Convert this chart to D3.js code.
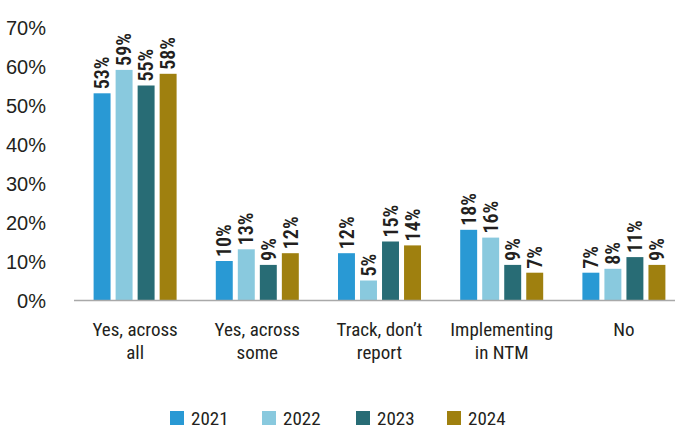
<!DOCTYPE html>
<html>
<head>
<meta charset="utf-8">
<script src="https://cdn.jsdelivr.net/npm/d3@7"></script>
<style>
  html, body { margin: 0; padding: 0; background: #fff; }
  svg { display: block; font-family: "Roboto Condensed", "Liberation Sans Narrow", Roboto, sans-serif; }
</style>
</head>
<body>
<svg id="chart" width="675" height="430"></svg>
<script>
// Survey answers and share of respondents per year (%)
const categories = ["Yes, across all", "Yes, across some", "Track, don’t report", "Implementing in NTM", "No"];
const categoryLines = [["Yes, across", "all"], ["Yes, across", "some"], ["Track, don’t", "report"], ["Implementing", "in NTM"], ["No"]];
const years = ["2021", "2022", "2023", "2024"];
const values2021 = [53, 10, 12, 18, 7];
const values2022 = [59, 13, 5, 16, 8];
const values2023 = [55, 9, 15, 9, 11];
const values2024 = [58, 12, 14, 7, 9];
const yTicks = [0, 10, 20, 30, 40, 50, 60, 70];
const colors = ["#2999d4", "#89c9de", "#286c75", "#9f800f"];

const series = [values2021, values2022, values2023, values2024];

const svg = d3.select("#chart");
const textColor = "#231f20";

const x0 = d3.scaleBand().domain(categories).range([74, 685]).padding(0);
const groupWidth = 83;
const x1 = d3.scaleBand().domain(years).range([0, groupWidth]).paddingInner(0.23).paddingOuter(0);
const y = d3.scaleLinear().domain([0, 70]).range([300, 27]);
const color = d3.scaleOrdinal().domain(years).range(colors);

// Y axis: labels only
const yAxis = svg.append("g")
  .attr("transform", "translate(46,0)")
  .call(d3.axisLeft(y).tickValues(yTicks).tickFormat(d => d + "%").tickSize(0).tickPadding(0));
yAxis.select(".domain").remove();
yAxis.selectAll("text")
  .attr("font-family", null)
  .attr("font-size", 20)
  .attr("fill", textColor)
  .attr("dy", "0.35em");

// Bars
const groups = svg.append("g").selectAll("g")
  .data(categories)
  .join("g")
  .attr("transform", d => `translate(${x0(d) + (x0.bandwidth() - groupWidth) / 2},0)`);

groups.selectAll("rect")
  .data((c, i) => years.map((yr, k) => ({ year: yr, value: series[k][i] })))
  .join("rect")
  .attr("x", d => x1(d.year))
  .attr("y", d => y(d.value))
  .attr("width", x1.bandwidth())
  .attr("height", d => y(0) - y(d.value))
  .attr("fill", d => color(d.year));

// Value labels, rotated above each bar
groups.selectAll("text.val")
  .data((c, i) => years.map((yr, k) => ({ year: yr, value: series[k][i] })))
  .join("text")
  .attr("class", "val")
  .attr("transform", d => `translate(${x1(d.year) + x1.bandwidth() / 2},${y(d.value) - 4}) rotate(-90)`)
  .attr("dy", "0.36em")
  .attr("text-anchor", "start")
  .attr("font-size", 20)
  .attr("font-weight", 600)
  .attr("fill", textColor)
  .text(d => d.value + "%");

// X axis baseline
svg.append("line")
  .attr("x1", 74).attr("x2", 685)
  .attr("y1", y(0) + 0.5).attr("y2", y(0) + 0.5)
  .attr("stroke", "#a9a9a9")
  .attr("stroke-width", 1.5);

// Category labels
const catLabels = svg.append("g").selectAll("text")
  .data(categories)
  .join("text")
  .attr("x", d => x0(d) + x0.bandwidth() / 2)
  .attr("y", 336)
  .attr("text-anchor", "middle")
  .attr("font-size", 19)
  .attr("fill", textColor);
catLabels.each(function (d, i) {
  d3.select(this).selectAll("tspan")
    .data(categoryLines[i])
    .join("tspan")
    .attr("x", x0(d) + x0.bandwidth() / 2)
    .attr("dy", (t, j) => j === 0 ? 0 : 23)
    .text(t => t);
});

// Legend
const legendX = [170, 262, 356, 447];
const legend = svg.append("g").selectAll("g")
  .data(years)
  .join("g")
  .attr("transform", (d, i) => `translate(${legendX[i]},411)`);
legend.append("rect")
  .attr("width", 14).attr("height", 14)
  .attr("fill", d => color(d));
legend.append("text")
  .attr("x", 21).attr("y", 7)
  .attr("dy", "0.35em")
  .attr("font-size", 19)
  .attr("fill", textColor)
  .text(d => d);
</script>
</body>
</html>
